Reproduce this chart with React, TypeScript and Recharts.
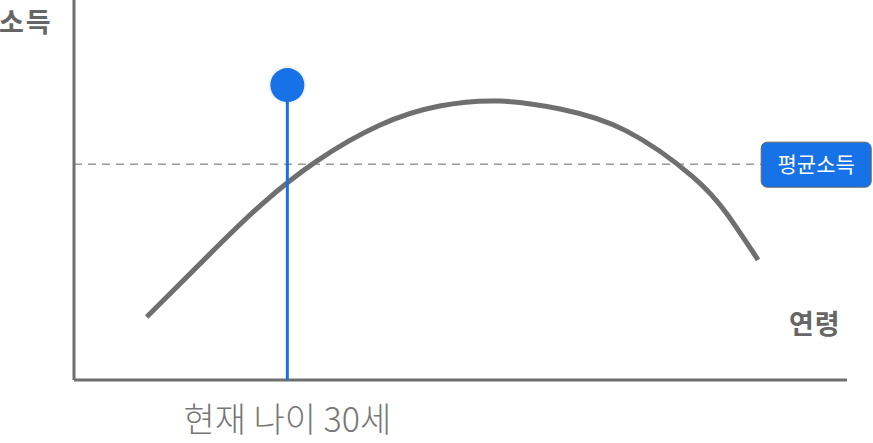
import { ComposedChart, Line, Scatter, XAxis, YAxis, ReferenceLine } from 'recharts';

// curve (abstract age / income units, 0..100)
const ages = [9.4, 17.2, 24.1, 31.4, 39.6, 47.3, 55.1, 62.9, 71.5, 80.1, 84.5, 88.5];
const incomes = [16.6, 32.4, 45.9, 57.6, 67.1, 72.1, 73.4, 71.3, 65.5, 53.4, 43.6, 31.6];
const averageIncome = 56.8;
const averageEnd = 88.9;
const currentAge = 27.6;
const markerIncome = 77.6;

const yTitle = '소득';
const xTitle = '연령';
const averageLabel = '평균소득';
const currentLabel = '현재 나이 30세';

const BLUE = '#1672e6';
const GRAY = '#6f6f6f';
const FONT = '"Noto Sans CJK KR", "Noto Sans", sans-serif';

const curveData = ages.map((x, i) => ({ x, y: incomes[i] }));

const MarkerDot = (props: any) => {
  const { cx, cy } = props;
  return (
    <g>
      <circle cx={cx} cy={cy} r={19} fill="rgba(0,0,0,0.05)" />
      <circle cx={cx} cy={cy} r={17} fill={BLUE} />
    </g>
  );
};

const CurrentText = (props: any) => {
  const { cx, cy } = props;
  return (
    <text x={cx} y={cy + 52} textAnchor="middle" fontFamily={FONT} fontSize={34} fontWeight={300} fill="#777">
      {currentLabel}
    </text>
  );
};

const AverageBox = (props: any) => {
  const { cx, cy } = props;
  return (
    <g>
      <rect x={cx} y={cy - 22} width={110} height={45} rx={6} ry={6} fill={BLUE} stroke="#666" strokeWidth={1} />
      <text x={cx + 55} y={cy + 8} textAnchor="middle" fontFamily={FONT} fontSize={21} fill="#fff">
        {averageLabel}
      </text>
    </g>
  );
};

export default function App() {
  return (
    <div style={{ position: 'absolute', left: 0, top: 0, width: 873, height: 443, background: '#fff' }}>
      <ComposedChart width={873} height={443} data={curveData} margin={{ top: 0, right: 26, bottom: 63, left: 74 }}>
        <XAxis dataKey="x" type="number" domain={[0, 100]} hide />
        <YAxis type="number" domain={[0, 100]} hide />
        <ReferenceLine
          segment={[{ x: 0, y: averageIncome }, { x: averageEnd, y: averageIncome }]}
          stroke="#666"
          strokeWidth={1}
          strokeDasharray="8 6"
        />
        <Line
          dataKey="y"
          type="natural"
          stroke={GRAY}
          strokeWidth={5}
          dot={false}
          activeDot={false}
          isAnimationActive={false}
        />
        <ReferenceLine x={0} stroke={GRAY} strokeWidth={3} />
        <ReferenceLine y={0} stroke={GRAY} strokeWidth={3} />
        <ReferenceLine
          segment={[{ x: currentAge, y: 0 }, { x: currentAge, y: markerIncome }]}
          stroke={BLUE}
          strokeWidth={3}
        />
        <Scatter data={[{ x: currentAge, y: markerIncome }]} dataKey="y" shape={MarkerDot} isAnimationActive={false} />
        <Scatter data={[{ x: currentAge, y: 0 }]} dataKey="y" shape={CurrentText} isAnimationActive={false} />
        <Scatter data={[{ x: averageEnd, y: averageIncome }]} dataKey="y" shape={AverageBox} isAnimationActive={false} />
      </ComposedChart>
      <div style={{ position: 'absolute', left: -1, top: 1, fontFamily: FONT, fontSize: 27, fontWeight: 700, letterSpacing: 2, color: '#666' }}>
        {yTitle}
      </div>
      <div style={{ position: 'absolute', left: 789, top: 303, fontFamily: FONT, fontSize: 27, fontWeight: 700, letterSpacing: 1, color: '#666' }}>
        {xTitle}
      </div>
    </div>
  );
}
